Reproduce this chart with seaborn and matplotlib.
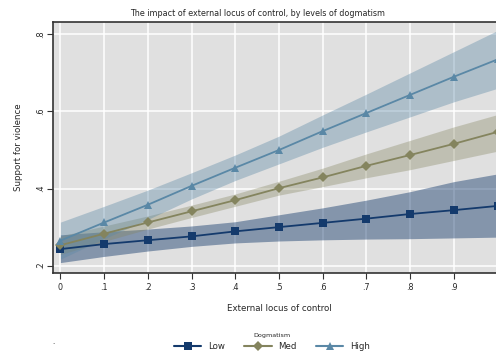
import numpy as np
import pandas as pd
import matplotlib
matplotlib.use("Agg")
import matplotlib.pyplot as plt
import seaborn as sns
from matplotlib.lines import Line2D

# ---- data ----
x_vals = [0.0, 0.1, 0.2, 0.3, 0.4, 0.5, 0.6, 0.7, 0.8, 0.9, 1.0]
groups = ["Low", "Med", "High"]

low_mean = [0.243, 0.256, 0.266, 0.276, 0.289, 0.300, 0.311, 0.322, 0.334, 0.344, 0.355]
low_lo   = [0.208, 0.224, 0.238, 0.250, 0.259, 0.264, 0.267, 0.269, 0.270, 0.272, 0.274]
low_hi   = [0.280, 0.288, 0.295, 0.303, 0.314, 0.332, 0.350, 0.370, 0.392, 0.418, 0.438]

med_mean = [0.253, 0.283, 0.312, 0.341, 0.370, 0.401, 0.429, 0.459, 0.487, 0.516, 0.547]
med_lo   = [0.229, 0.263, 0.295, 0.325, 0.354, 0.383, 0.405, 0.428, 0.449, 0.473, 0.497]
med_hi   = [0.277, 0.303, 0.329, 0.357, 0.386, 0.419, 0.453, 0.490, 0.525, 0.560, 0.592]

high_mean = [0.265, 0.312, 0.358, 0.407, 0.454, 0.500, 0.549, 0.596, 0.643, 0.690, 0.735]
high_lo   = [0.217, 0.270, 0.320, 0.373, 0.421, 0.464, 0.507, 0.547, 0.586, 0.625, 0.660]
high_hi   = [0.313, 0.354, 0.396, 0.441, 0.487, 0.536, 0.591, 0.645, 0.700, 0.755, 0.810]

x_ticks = [0.0, 0.1, 0.2, 0.3, 0.4, 0.5, 0.6, 0.7, 0.8, 0.9, 1.0]
x_ticklabels = ["0", ".1", ".2", ".3", ".4", ".5", ".6", ".7", ".8", ".9", "1"]
y_ticks = [0.2, 0.4, 0.6, 0.8]
y_ticklabels = [".2", ".4", ".6", ".8"]

title = "The impact of external locus of control, by levels of dogmatism"
xlabel = "External locus of control"
ylabel = "Support for violence"
legend_title = "Dogmatism"

# ---- long table ----
means = {"Low": low_mean, "Med": med_mean, "High": high_mean}
los = {"Low": low_lo, "Med": med_lo, "High": high_lo}
his = {"Low": low_hi, "Med": med_hi, "High": high_hi}
rows = []
for g in groups:
    for xv, m, lo, hi in zip(x_vals, means[g], los[g], his[g]):
        rows.append({"x": xv, "y": m, "lo": lo, "hi": hi, "group": g})
df = pd.DataFrame(rows)

# ---- style ----
sns.set_theme(style="white")
plt.rcParams["font.family"] = ["DejaVu Sans"]

colors = {"Low": "#143a6c", "Med": "#84845e", "High": "#5a88a6"}
band_alpha = {"Low": 0.45, "Med": 0.35, "High": 0.38}
markers = {"Low": "s", "Med": "D", "High": "^"}
msizes = {"Low": 5.5, "Med": 5.0, "High": 5.5}

fig = plt.figure(figsize=(4.96, 3.56), dpi=100)
fig.patch.set_facecolor("white")
ax = fig.add_axes([53 / 496, 83 / 356, (505 - 53) / 496, 251 / 356])
ax.set_facecolor("#e0e0e0")

ax.set_xlim(-0.017, 1.017)
ax.set_ylim(0.181, 0.832)

for xv in x_ticks:
    ax.axvline(xv, color="white", lw=1.1, zorder=0.5)
for yv in y_ticks:
    ax.axhline(yv, color="white", lw=1.1, zorder=0.5)

for g in groups:
    sub = df[df["group"] == g]
    ax.fill_between(sub["x"], sub["lo"], sub["hi"], color=colors[g],
                    alpha=band_alpha[g], lw=0, zorder=1)

for g in groups:
    sub = df[df["group"] == g]
    sns.lineplot(data=sub, x="x", y="y", ax=ax, color=colors[g],
                 marker=markers[g], markersize=msizes[g], markeredgewidth=0,
                 linewidth=1.3, legend=False, zorder=3, errorbar=None)

ax.set_xticks(x_ticks)
ax.set_xticklabels(x_ticklabels, fontsize=5.8)
ax.set_yticks(y_ticks)
ax.set_yticklabels(y_ticklabels, fontsize=5.8, rotation=90, va="center")
ax.tick_params(axis="both", direction="out", length=4, width=0.8,
               color="#333333", pad=3, bottom=True, left=True)
ax.tick_params(axis="y", pad=2)

for side in ["top", "left", "bottom", "right"]:
    ax.spines[side].set_visible(True)
    ax.spines[side].set_color("#333333")
    ax.spines[side].set_linewidth(1.2)

ax.set_xlabel(xlabel, fontsize=6.2, labelpad=9)
ax.set_ylabel(ylabel, fontsize=6.2, labelpad=9)

fig.text(258 / 496, 1 - 13 / 356, title, ha="center", va="center", fontsize=5.8)

handles = [Line2D([0], [0], color=colors[g], marker=markers[g],
                  markersize=msizes[g], markeredgewidth=0, lw=1.5) for g in groups]
leg = fig.legend(handles, groups, loc="center", ncol=3,
                 bbox_to_anchor=(272 / 496, 1 - 342 / 356),
                 frameon=False, fontsize=6.2, title=legend_title,
                 title_fontsize=4.6, handlelength=3.2, columnspacing=2.2,
                 handletextpad=0.8)
fig.text(53 / 496, 1 - 342 / 356, ".", ha="center", va="center", fontsize=5)

fig.savefig("out.png", dpi=100, facecolor="white")
